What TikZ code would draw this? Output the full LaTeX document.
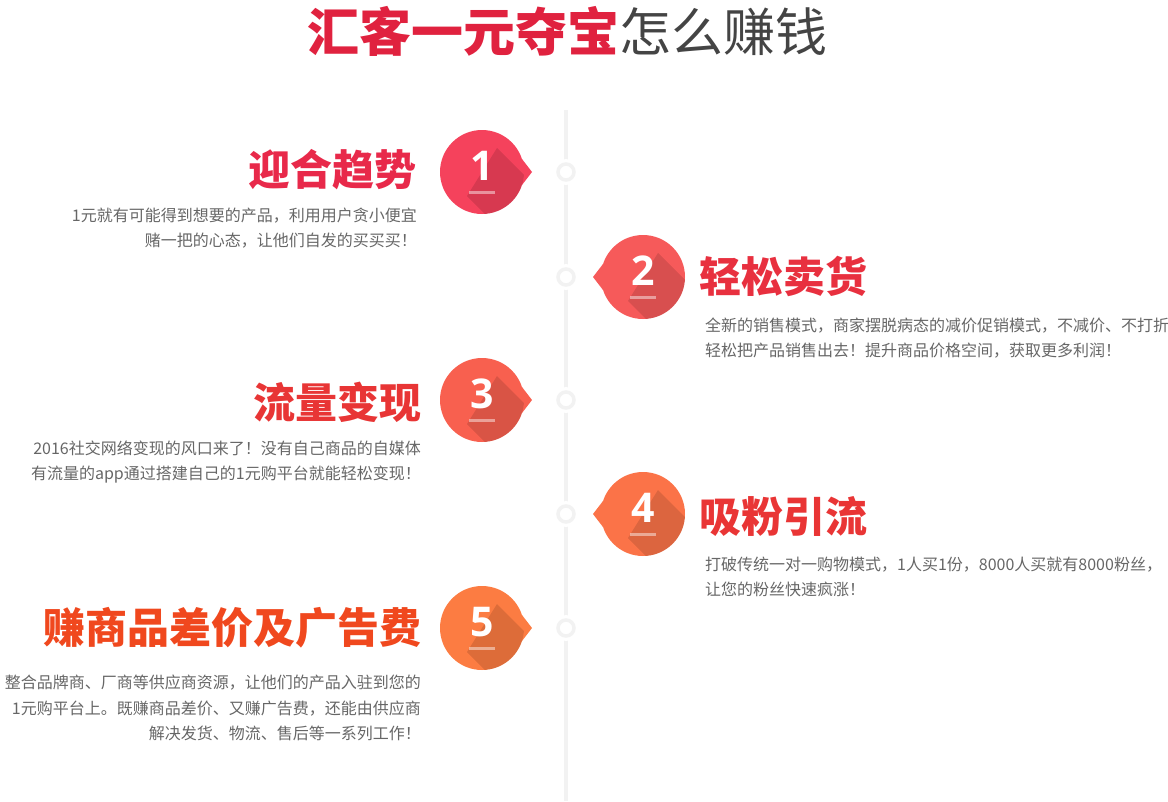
\documentclass[tikz,border=0pt]{standalone}
\usepackage{fontspec}
\newfontfamily\cjk{Noto Sans CJK SC}
\newfontfamily\numfont{Open Sans}
\definecolor{titlered}{HTML}{E0223F}
\definecolor{titlegray}{HTML}{444444}
\definecolor{txtgray}{HTML}{666666}
\definecolor{linegray}{HTML}{F2F2F2}
\definecolor{bad1}{HTML}{F5425C}
\definecolor{bad2}{HTML}{F65A5A}
\definecolor{bad3}{HTML}{F8604F}
\definecolor{bad4}{HTML}{FB7348}
\definecolor{bad5}{HTML}{FC7C42}
\definecolor{head1}{HTML}{E8294A}
\definecolor{head2}{HTML}{E8303F}
\definecolor{head3}{HTML}{E83535}
\definecolor{head4}{HTML}{E93535}
\definecolor{head5}{HTML}{F0481E}
\tikzset{
  heading/.style={font=\cjk\bfseries\fontsize{42}{42}\selectfont, inner sep=0pt},
  desc/.style={font=\cjk\fontsize{16}{25.5}\selectfont, text=txtgray, inner sep=0pt},
  number/.style={font=\numfont\bfseries\fontsize{41}{41}\selectfont, text=white, inner sep=0pt},
}

\begin{document}
\begin{tikzpicture}[x=1pt,y=-1pt]
\useasboundingbox (0,0) rectangle (1168,801);
% title
\node[font=\cjk\fontsize{52}{52}\selectfont, text=titlegray, inner sep=0pt] (title) at (567,31)
  {{\color{titlered}\bfseries 汇客一元夺宝}怎么赚钱};
% time line
\draw[linegray, line width=4pt] (566,110) -- (566,801);
% badges
\foreach \i/\cx/\cy/\s/\col in {1/482/172/1/bad1, 2/643/277/-1/bad2, 3/482/400/1/bad3, 4/643/514/-1/bad4, 5/482/628/1/bad5}{
  \fill[white] (566,\cy) circle (13pt);
  \draw[linegray, line width=3.5pt] (566,\cy) circle (8pt) coordinate (ring\i);
  \fill[\col] (\cx,\cy) circle (42pt) coordinate (badge\i);
  \fill[\col] (\cx+\s*40,\cy-13) -- (\cx+\s*50,\cy) -- (\cx+\s*40,\cy+13) -- cycle;
  \begin{scope}
    \clip (\cx,\cy) circle (42pt);
    \fill[black, opacity=.12] (\cx+15,\cy-24) -- (\cx+75,\cy+36) -- (\cx+45,\cy+84) -- (\cx-15,\cy+24) -- cycle;
  \end{scope}
  \node[number] (num\i) at (\cx,\cy-6) {\i};
  \fill[white, opacity=.45] (\cx-13,\cy+19) rectangle (\cx+13,\cy+22);
}
% left and right texts
\node[heading, text=head1, anchor=east] (step1) at (417,170) {迎合趋势};
\node[desc, anchor=east, align=right] (text1) at (417,228)
  {1元就有可能得到想要的产品，利用用户贪小便宜\\赌一把的心态，让他们自发的买买买！};
\node[heading, text=head2, anchor=west] (step2) at (699,276) {轻松卖货};
\node[desc, anchor=west, align=left] (text2) at (705,338)
  {全新的销售模式，商家摆脱病态的减价促销模式，不减价、不打折\\轻松把产品销售出去！提升商品价格空间，获取更多利润！};
\node[heading, text=head3, anchor=east] (step3) at (422,402) {流量变现};
\node[desc, anchor=east, align=right] (text3) at (421,462)
  {2016社交网络变现的风口来了！没有自己商品的自媒体\\有流量的app通过搭建自己的1元购平台就能轻松变现！};
\node[heading, text=head4, anchor=west] (step4) at (699,516) {吸粉引流};
\node[desc, anchor=west, align=left] (text4) at (705,577)
  {打破传统一对一购物模式，1人买1份，8000人买就有8000粉丝，\\让您的粉丝快速疯涨！};
\node[heading, text=head5, anchor=east] (step5) at (422,628) {赚商品差价及广告费};
\node[desc, anchor=east, align=right] (text5) at (421,708)
  {整合品牌商、厂商等供应商资源，让他们的产品入驻到您的\\1元购平台上。既赚商品差价、又赚广告费，还能由供应商\\解决发货、物流、售后等一系列工作！};
\end{tikzpicture}
\end{document}
